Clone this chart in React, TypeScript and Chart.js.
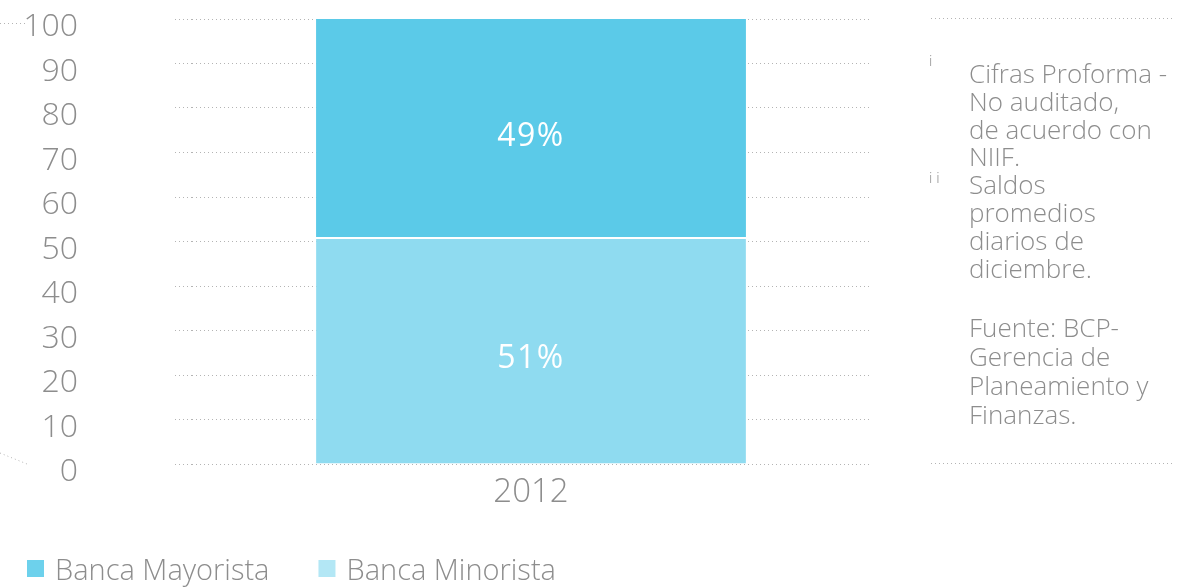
import { useEffect, useRef } from 'react';
import { Chart, registerables } from 'chart.js';

Chart.register(...registerables);

const categories = ['2012'];
const minoristaValues = [51];
const mayoristaValues = [49];
const seriesLabels = ['Banca Mayorista', 'Banca Minorista'];
const yTickValues = [0, 10, 20, 30, 40, 50, 60, 70, 80, 90, 100];
const notesBlock1 = [
  'Cifras Proforma -',
  'No auditado,',
  'de acuerdo con',
  'NIIF.',
  'Saldos',
  'promedios',
  'diarios de',
  'diciembre.',
];
const notesBlock2 = ['Fuente: BCP-', 'Gerencia de', 'Planeamiento y', 'Finanzas.'];
const noteMarkers = ['i', 'i i'];

const FONT = "'Open Sans', 'Noto Sans', sans-serif";
const GRAY = '#8d8d8d';
const DOT = '#b4b4b4';
const MAYOR_BAR = '#5bcae8';
const MINOR_BAR = '#8fdbf0';
const MAYOR_LEG = '#6dd1ec';
const MINOR_LEG = '#b3e7f5';

function dotted(ctx: CanvasRenderingContext2D, x1: number, y1: number, x2: number, y2: number) {
  ctx.save();
  ctx.strokeStyle = DOT;
  ctx.lineWidth = 1;
  ctx.setLineDash([1, 3]);
  ctx.beginPath();
  ctx.moveTo(x1, y1);
  ctx.lineTo(x2, y2);
  ctx.stroke();
  ctx.restore();
}

const extrasPlugin = {
  id: 'extras',
  afterDraw(chart: any) {
    const ctx: CanvasRenderingContext2D = chart.ctx;
    // data labels
    ctx.save();
    ctx.fillStyle = '#ffffff';
    ctx.font = `400 32px ${FONT}`;
    (ctx as any).letterSpacing = '1.5px';
    ctx.textAlign = 'center';
    ctx.textBaseline = 'middle';
    chart.data.datasets.forEach((ds: any, di: number) => {
      const meta = chart.getDatasetMeta(di);
      meta.data.forEach((bar: any, i: number) => {
        const v = ds.data[i];
        const yc = (bar.y + bar.base) / 2;
        ctx.fillText(`${v}%`, bar.x, yc + 9);
      });
    });
    ctx.restore();

    // legend
    ctx.save();
    ctx.font = `300 29px ${FONT}`;
    ctx.textBaseline = 'alphabetic';
    ctx.textAlign = 'left';
    const legendColors = [MAYOR_LEG, MINOR_LEG];
    let lx = 27;
    seriesLabels.forEach((lab, i) => {
      ctx.fillStyle = legendColors[i];
      ctx.fillRect(lx, 560, 17, 17);
      ctx.fillStyle = GRAY;
      ctx.fillText(lab, lx + 28, 580);
      lx += 28 + ctx.measureText(lab).width + 49;
    });
    ctx.restore();

    // notes
    ctx.save();
    ctx.fillStyle = GRAY;
    ctx.font = `300 26px ${FONT}`;
    ctx.textAlign = 'left';
    ctx.textBaseline = 'alphabetic';
    notesBlock1.forEach((t, i) => ctx.fillText(t, 969, 83 + i * 27.8));
    notesBlock2.forEach((t, i) => ctx.fillText(t, 969, 337 + i * 29));
    ctx.font = `300 15px ${FONT}`;
    ctx.fillText(noteMarkers[0], 929, 66);
    ctx.fillText(noteMarkers[1], 929, 183);
    ctx.restore();

    dotted(ctx, 931, 18.5, 1173, 18.5);
    dotted(ctx, 931, 463.5, 1173, 463.5);
    dotted(ctx, 0, 23.5, 26, 23.5);
    dotted(ctx, 0, 453, 27, 464);
  },
};

export default function App() {
  const ref = useRef<HTMLCanvasElement | null>(null);
  useEffect(() => {
    document.body.style.margin = '0';
    if (!ref.current) return;
    const chart = new Chart(ref.current, {
      type: 'bar',
      data: {
        labels: categories,
        datasets: [
          {
            label: seriesLabels[1],
            data: minoristaValues,
            backgroundColor: MINOR_BAR,
            borderColor: '#ffffff',
            borderWidth: { top: 2, right: 0, bottom: 0, left: 0 },
            borderSkipped: false,
            barPercentage: 1,
            categoryPercentage: 0.634,
          },
          {
            label: seriesLabels[0],
            data: mayoristaValues,
            backgroundColor: MAYOR_BAR,
            borderWidth: 0,
            barPercentage: 1,
            categoryPercentage: 0.634,
          },
        ],
      },
      options: {
        animation: false,
        responsive: true,
        maintainAspectRatio: false,
        layout: { padding: { top: 19, right: 311, bottom: 0, left: 0 } },
        plugins: {
          legend: { display: false },
          tooltip: { enabled: false },
        },
        scales: {
          x: {
            stacked: true,
            grid: { display: false, drawTicks: false },
            border: { display: false },
            ticks: {
              color: GRAY,
              font: { family: FONT, size: 33, weight: 300 as any },
              padding: 9,
            },
            afterFit: (s: any) => {
              s.height = 124;
              s.paddingLeft = 0;
              s.paddingRight = 0;
            },
          },
          y: {
            stacked: true,
            min: 0,
            max: 100,
            afterBuildTicks: (s: any) => {
              s.ticks = yTickValues.map((v) => ({ value: v }));
            },
            grid: {
              color: DOT,
              lineWidth: 1,
              drawTicks: true,
              tickLength: 17,
              tickColor: DOT,
              tickBorderDash: [1, 3],
            },
            border: { display: false, dash: [1, 3] },
            ticks: {
              color: GRAY,
              font: { family: FONT, size: 32, weight: 300 as any },
              padding: 97,
              labelOffset: 8,
              autoSkip: false,
            },
            afterFit: (s: any) => {
              s.width = 192;
              s.paddingTop = 0;
              s.paddingBottom = 0;
            },
          },
        },
      },
      plugins: [extrasPlugin],
    });
    return () => chart.destroy();
  }, []);
  return (
    <div style={{ width: 1181, height: 588, position: 'relative' }}>
      <canvas ref={ref} />
    </div>
  );
}
